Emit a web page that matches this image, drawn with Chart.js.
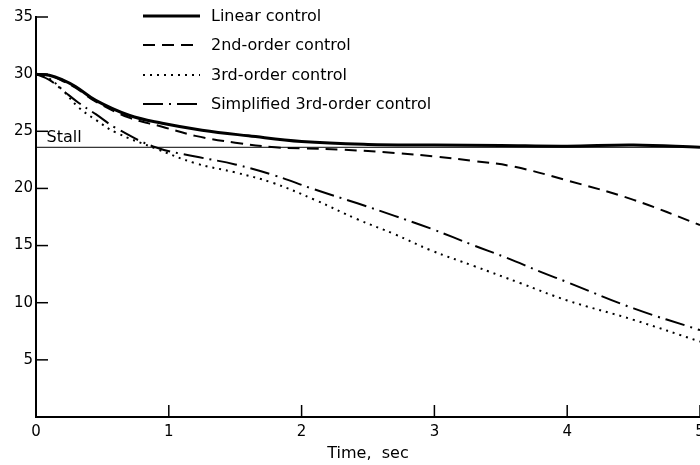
<!DOCTYPE html>
<html>
<head>
  <title>Control response vs time</title>
  <style>
    body { margin: 0; background: #fff; }
    #wrap { width: 700px; height: 465px; position: relative; }
  </style>
  <script src="https://cdn.jsdelivr.net/npm/chart.js"></script>
</head>
<body>
  <div id="wrap"><canvas id="ctrlChart"></canvas></div>
  <script>
    // --- data ---
    const seriesNames = ['Linear control', '2nd-order control', '3rd-order control', 'Simplified 3rd-order control'];

    const tLinear = [0, 0.1, 0.2, 0.3, 0.45, 0.7, 0.95, 1.25, 1.6, 2.0, 2.5, 3.0, 3.5, 4.0, 4.5, 5.0];
    const vLinear = [30, 29.9, 29.5, 28.9, 27.7, 26.4, 25.7, 25.1, 24.6, 24.1, 23.85, 23.8, 23.75, 23.7, 23.8, 23.6];

    const t2nd = [0, 0.1, 0.2, 0.3, 0.45, 0.7, 0.95, 1.2, 1.5, 1.8, 2.0, 2.3, 2.7, 3.0, 3.3, 3.6, 4.0, 4.5, 5.0];
    const v2nd = [30, 29.9, 29.4, 28.8, 27.6, 26.2, 25.4, 24.6, 24.0, 23.6, 23.5, 23.4, 23.1, 22.8, 22.4, 21.9, 20.7, 19.0, 16.8];

    const t3rd = [0, 0.1, 0.2, 0.32, 0.45, 0.6, 0.9, 1.2, 1.5, 1.78, 2.1, 2.42, 2.7, 2.97, 3.3, 3.65, 4.0, 4.5, 5.0];
    const v3rd = [30, 29.6, 28.6, 27.1, 26.0, 24.9, 23.5, 22.2, 21.4, 20.5, 19.0, 17.3, 16.0, 14.6, 13.2, 11.7, 10.2, 8.5, 6.6];

    const tSimp = [0, 0.1, 0.2, 0.32, 0.45, 0.6, 0.9, 1.2, 1.5, 1.78, 2.1, 2.42, 2.7, 2.97, 3.3, 3.55, 3.8, 4.0, 4.5, 5.0];
    const vSimp = [30, 29.5, 28.6, 27.5, 26.5, 25.3, 23.6, 22.8, 22.1, 21.2, 19.9, 18.7, 17.6, 16.5, 15.0, 13.9, 12.7, 11.8, 9.5, 7.6];

    const stallValue = 23.6;
    const stallSpan = [0, 5];
    const xTicks = [0, 1, 2, 3, 4, 5];
    const yTicks = [5, 10, 15, 20, 25, 30, 35];

    const toPoints = (ts, vs) => ts.map((t, i) => ({ x: t, y: vs[i] }));

    const FONT = 'DejaVu Sans';
    const lineStyles = [
      { width: 3, dash: [] },
      { width: 2, dash: [12, 7] },
      { width: 2, dash: [2, 5] },
      { width: 2, dash: [20, 6, 2, 6] },
    ];

    // legend drawn by hand: a column of line samples at the top middle
    const legendPlugin = {
      id: 'columnLegend',
      afterDraw(chart) {
        const ctx = chart.ctx;
        const rowsY = [16, 45, 75, 104];
        ctx.save();
        chart.data.datasets.forEach((ds, i) => {
          if (!ds.inLegend) return;
          const y = rowsY[i];
          ctx.strokeStyle = '#000';
          ctx.lineWidth = ds.borderWidth;
          ctx.setLineDash(ds.borderDash || []);
          ctx.beginPath();
          ctx.moveTo(143, y);
          ctx.lineTo(200, y);
          ctx.stroke();
          ctx.setLineDash([]);
          ctx.fillStyle = '#000';
          ctx.font = '16px "' + FONT + '"';
          ctx.textBaseline = 'middle';
          ctx.textAlign = 'left';
          ctx.fillText(ds.label, 211, y + 1);
        });
        ctx.restore();
      }
    };

    // inward tick marks and the "Stall" note
    const marksPlugin = {
      id: 'innerTicks',
      afterDraw(chart) {
        const ctx = chart.ctx;
        const xs = chart.scales.x, ys = chart.scales.y;
        const area = chart.chartArea;
        ctx.save();
        ctx.strokeStyle = '#000';
        ctx.lineWidth = 1.5;
        yTicks.forEach(v => {
          const py = ys.getPixelForValue(v);
          ctx.beginPath();
          ctx.moveTo(area.left, py);
          ctx.lineTo(area.left + 12, py);
          ctx.stroke();
        });
        xTicks.slice(1).forEach(v => {
          const px = xs.getPixelForValue(v);
          ctx.beginPath();
          ctx.moveTo(px, area.bottom);
          ctx.lineTo(px, area.bottom - 12);
          ctx.stroke();
        });
        ctx.fillStyle = '#000';
        ctx.font = '16px "' + FONT + '"';
        ctx.textAlign = 'left';
        ctx.textBaseline = 'bottom';
        ctx.fillText('Stall', xs.getPixelForValue(0.08), ys.getPixelForValue(stallValue) - 1);
        ctx.restore();
      }
    };

    const datasets = seriesNames.map((name, i) => ({
      label: name,
      inLegend: true,
      data: toPoints([tLinear, t2nd, t3rd, tSimp][i], [vLinear, v2nd, v3rd, vSimp][i]),
      borderColor: '#000',
      borderWidth: lineStyles[i].width,
      borderDash: lineStyles[i].dash,
      pointRadius: 0,
      fill: false,
      tension: 0.4,
    }));

    datasets.push({
      label: 'Stall',
      inLegend: false,
      data: stallSpan.map(t => ({ x: t, y: stallValue })),
      borderColor: '#000',
      borderWidth: 1,
      pointRadius: 0,
      fill: false,
    });

    new Chart(document.getElementById('ctrlChart'), {
      type: 'line',
      data: { datasets: datasets },
      options: {
        responsive: true,
        maintainAspectRatio: false,
        animation: false,
        layout: { padding: { top: 17, right: 0, bottom: 0, left: 0 } },
        plugins: {
          legend: { display: false },
          tooltip: { enabled: false },
        },
        scales: {
          x: {
            type: 'linear',
            min: 0,
            max: 5,
            afterBuildTicks: s => { s.ticks = xTicks.map(v => ({ value: v })); },
            afterFit: s => { s.height = 48; s.paddingLeft = 0; s.paddingRight = 0; },
            grid: { display: false, drawTicks: false },
            border: { display: true, color: '#000', width: 2 },
            ticks: { color: '#000', padding: 6, font: { family: FONT, size: 15 } },
            title: {
              display: true,
              text: 'Time,  sec',
              color: '#000',
              font: { family: FONT, size: 16 },
              padding: { top: 2, bottom: 2 },
            },
          },
          y: {
            min: 0,
            max: 35,
            afterBuildTicks: s => { s.ticks = yTicks.map(v => ({ value: v })); },
            afterFit: s => { s.width = 36; s.paddingTop = 0; s.paddingBottom = 0; },
            grid: { display: false, drawTicks: false },
            border: { display: true, color: '#000', width: 2 },
            ticks: { color: '#000', padding: 3, font: { family: FONT, size: 15 } },
          },
        },
      },
      plugins: [legendPlugin, marksPlugin],
    });
  </script>
</body>
</html>
